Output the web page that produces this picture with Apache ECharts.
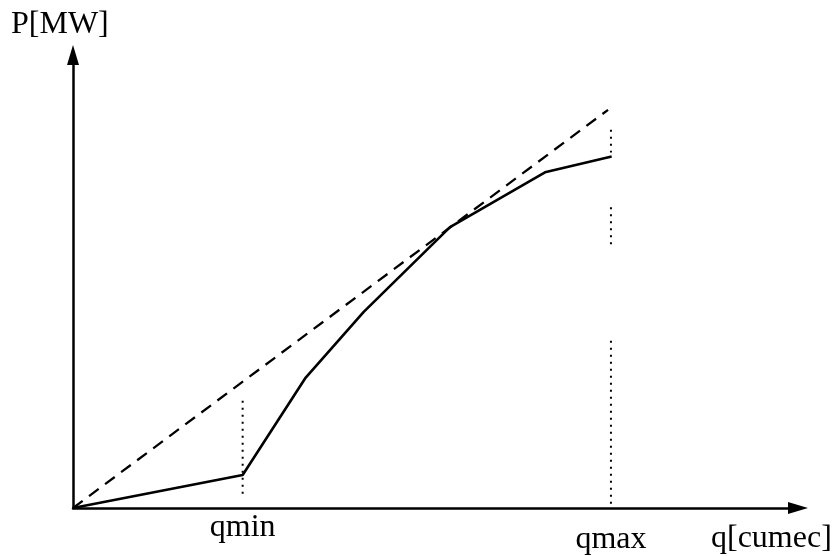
<!DOCTYPE html>
<html><head><meta charset="utf-8">
<script src="https://cdn.jsdelivr.net/npm/echarts@6/dist/echarts.min.js"></script>
<style>html,body{margin:0;padding:0;background:#fff}#c{width:836px;height:556px}</style>
</head><body><div id="c"></div>
<script>
// data (arbitrary units: q 0..100, P 0..100)
const curveQ = [0, 23.4, 32.1, 40.1, 52.0, 65.1, 74.3];
const curveP = [0, 7.3, 28.8, 43.3, 62.0, 74.1, 77.6];
const lineQ = [0, 73.8];
const lineP = [0, 87.9];
const qmin = 23.4;
const qmax = 74.2;
const qminGuideSegments = [[23.7, 2.2]];
const qmaxGuideSegments = [[83.5, 78.5], [66.4, 57.6], [36.9, 0.7]];
const tickNames = ['qmin', 'qmax'];
const xTitle = 'q[cumec]';
const yTitle = 'P[MW]';

const FONT = '"Liberation Serif", "Times New Roman", serif';

function guideData(q, segs) {
  const out = [];
  segs.forEach((s, i) => {
    if (i > 0) out.push([q, '-']);
    out.push([q, s[0]]);
    out.push([q, s[1]]);
  });
  return out;
}

const chart = echarts.init(document.getElementById('c'), null, {renderer: 'canvas'});
chart.setOption({
  animation: false,
  backgroundColor: '#fff',
  grid: {left: 73, right: 38, top: 55, bottom: 46, containLabel: false},
  xAxis: {
    type: 'value', min: 0, max: 100,
    splitLine: {show: false},
    axisTick: {show: false},
    axisLine: {show: true, onZero: false, symbol: ['none', 'triangle'], symbolSize: [12, 20],
      lineStyle: {color: '#000', width: 2.5}},
    axisLabel: {
      show: true,
      customValues: [qmin, qmax],
      margin: 4,
      color: '#000',
      fontFamily: FONT,
      fontSize: 32,
      formatter: v => Math.abs(v - qmin) < 1e-6 ? '{a|' + tickNames[0] + '}' : '{b|' + tickNames[1] + '}',
      rich: {
        a: {fontFamily: FONT, fontSize: 32, color: '#000'},
        b: {fontFamily: FONT, fontSize: 32, color: '#000', padding: [12, 0, 0, 0]}
      }
    }
  },
  yAxis: {
    type: 'value', min: 0, max: 100,
    splitLine: {show: false},
    axisTick: {show: false},
    axisLabel: {show: false},
    axisLine: {show: true, onZero: false, symbol: ['none', 'triangle'], symbolSize: [12, 20],
      lineStyle: {color: '#000', width: 2.5}}
  },
  graphic: [
    {type: 'text', left: 11, top: 9, style: {text: yTitle, font: '32px ' + FONT, fill: '#000'}},
    {type: 'text', left: 711, top: 523, style: {text: xTitle, font: '32px ' + FONT, fill: '#000'}}
  ],
  series: [
    {
      type: 'line', symbol: 'none', silent: true,
      data: curveQ.map((q, i) => [q, curveP[i]]),
      lineStyle: {color: '#000', width: 2.6}
    },
    {
      type: 'line', symbol: 'none', silent: true,
      data: lineQ.map((q, i) => [q, lineP[i]]),
      lineStyle: {color: '#000', width: 2.3, type: [12, 8]}
    },
    {
      type: 'line', symbol: 'none', silent: true, connectNulls: false,
      data: guideData(qmin, qminGuideSegments),
      lineStyle: {color: '#000', width: 2, type: [2, 5]}
    },
    {
      type: 'line', symbol: 'none', silent: true, connectNulls: false,
      data: guideData(qmax, qmaxGuideSegments),
      lineStyle: {color: '#000', width: 2, type: [2, 5]}
    }
  ]
});
</script>
</body></html>
